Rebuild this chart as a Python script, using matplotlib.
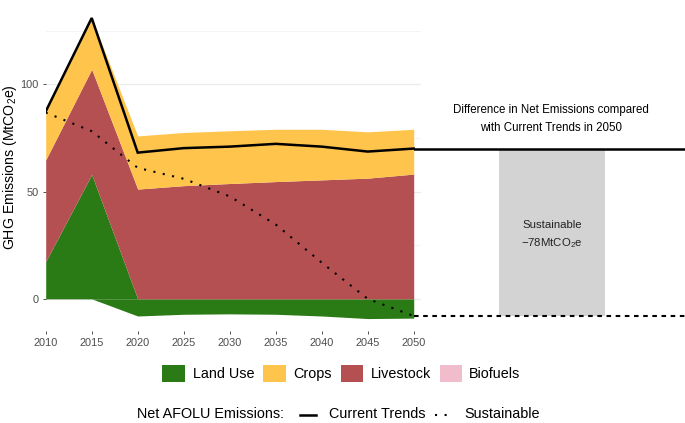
import matplotlib
matplotlib.use("Agg")
import matplotlib.pyplot as plt
import numpy as np
from matplotlib.patches import Rectangle
from matplotlib.lines import Line2D

plt.rcParams['font.family'] = ['Liberation Sans', 'DejaVu Sans']
plt.rcParams['mathtext.fontset'] = 'custom'
plt.rcParams['mathtext.rm'] = 'Liberation Sans'
plt.rcParams['mathtext.it'] = 'Liberation Sans:italic'
plt.rcParams['mathtext.bf'] = 'Liberation Sans:bold'

# ---------------- data ----------------
years = [2010, 2015, 2020, 2025, 2030, 2035, 2040, 2045, 2050]
land_use = [17.4, 58.0, -8.0, -7.2, -7.0, -7.2, -8.0, -9.2, -9.0]
livestock = [47.4, 49.1, 51.2, 52.8, 53.8, 54.7, 55.5, 56.3, 58.2]
crops = [22.6, 23.9, 24.8, 24.8, 24.6, 24.4, 23.6, 21.6, 20.9]
biofuels = [0, 0, 0, 0, 0, 0, 0, 0, 0]
current_trends = [87.4, 131.0, 68.2, 70.3, 71.0, 72.3, 71.0, 68.7, 70.1]
sustainable = [86.9, 78.2, 61.1, 56.0, 47.8, 34.7, 16.9, 0.0, -8.0]

y_ticks = [0, 50, 100]
x_ticks = years

sector_names = ["Land Use", "Crops", "Livestock", "Biofuels"]
sector_colors = {"Land Use": "#2A7B15", "Crops": "#FFC44B",
                 "Livestock": "#B44F52", "Biofuels": "#F1BCCB"}

# ---------------- figure ----------------
W, H = 685, 423
fig = plt.figure(figsize=(W / 100, H / 100), dpi=100)

def fx(px):
    return px / W

def fy(py):
    return 1 - py / H

left_px, right_px, top_px, bot_px = 45.7, 420.7, 3, 331
ax = fig.add_axes([fx(left_px), fy(bot_px), fx(right_px - left_px), (bot_px - top_px) / H])
ax.set_xlim(2010, 2050.76)
ax.set_ylim(-15, 138)

yrs = np.array(years, dtype=float)
lu = np.array(land_use)
ls = np.array(livestock)
cr = np.array(crops)
bf = np.array(biofuels)
pos_base = np.clip(lu, 0, None)
neg_part = np.clip(lu, None, 0)

ax.fill_between(yrs, 0, pos_base, color=sector_colors["Land Use"], lw=0, zorder=2)
ax.fill_between(yrs, neg_part, 0, color=sector_colors["Land Use"], lw=0, zorder=2)
ax.fill_between(yrs, pos_base, pos_base + ls, color=sector_colors["Livestock"], lw=0, zorder=2)
ax.fill_between(yrs, pos_base + ls, pos_base + ls + cr, color=sector_colors["Crops"], lw=0, zorder=2)
ax.fill_between(yrs, pos_base + ls + cr, pos_base + ls + cr + bf, color=sector_colors["Biofuels"], lw=0, zorder=2)

ax.plot(yrs, current_trends, color="black", lw=1.8, zorder=4, solid_joinstyle="miter")
ax.plot(yrs, sustainable, color="black", lw=1.5, linestyle=(0, (1, 3.6)), zorder=4)

# grid
for v in [0, 50, 100]:
    ax.axhline(v, color="#EBEBEB", lw=0.9, zorder=0)
for v in [25, 75, 125]:
    ax.axhline(v, color="#F2F2F2", lw=0.6, zorder=0)

for s in ax.spines.values():
    s.set_visible(False)
ax.set_yticks(y_ticks)
ax.set_xticks(x_ticks)
ax.set_xticklabels([str(y) for y in x_ticks])
ax.tick_params(axis="both", length=2.5, width=0.6, color="#333333",
               labelcolor="#4D4D4D", labelsize=7.9, pad=2.5)
ax.set_ylabel("GHG Emissions (MtCO$_2$e)", fontsize=10.2, color="black")
ax.yaxis.set_label_coords(-0.072, 0.5)

# ---------------- right panel ----------------
r_left = 414
ax2 = fig.add_axes([fx(r_left), fy(bot_px), fx(W - r_left), (bot_px - top_px) / H])
ax2.set_xlim(0, 1)
ax2.set_ylim(-15, 138)
ax2.axis("off")
ax2.patch.set_alpha(0)
diff = sustainable[-1] - current_trends[-1]
ax2.bar(0.51, current_trends[-1] - sustainable[-1], bottom=sustainable[-1],
        width=0.39, color="#D3D3D3", zorder=1)
ax2.axhline(current_trends[-1], color="black", lw=1.8, zorder=3)
ax2.axhline(sustainable[-1], color="black", lw=1.5, linestyle=(0, (2.2, 2.2)), zorder=3)
mid = (current_trends[-1] + sustainable[-1]) / 2
ax2.text(0.51, mid - 1.4, "Sustainable\n\u2212" + "%dMtCO$_2$e" % round(abs(diff)),
         ha="center", va="center", fontsize=8.2, linespacing=1.65, color="#222222")
ax2.text(0.505, 83.7, "Difference in Net Emissions compared\nwith Current Trends in 2050",
         ha="center", va="center", fontsize=8.3, linespacing=1.65, color="black")

# ---------------- legends ----------------
key_x = [162.3, 263.3, 340.7, 439.7]
txt_x = [193.3, 293.3, 371.0, 469.3]
for name, kx, tx in zip(sector_names, key_x, txt_x):
    fig.add_artist(Rectangle((fx(kx), fy(381.5)), fx(22.5), 16.5 / H,
                             transform=fig.transFigure, facecolor=sector_colors[name],
                             edgecolor="none"))
    fig.text(fx(tx), fy(373.5), name, ha="left", va="center", fontsize=10.4)

fig.text(fx(137.3), fy(414), "Net AFOLU Emissions:", ha="left", va="center", fontsize=10.4)
fig.add_artist(Line2D([fx(300), fx(316)], [fy(414.5), fy(414.5)], color="black", lw=1.8,
                      transform=fig.transFigure))
fig.text(fx(329.3), fy(414), "Current Trends", ha="left", va="center", fontsize=10.4)
fig.add_artist(Line2D([fx(435), fx(448)], [fy(414.5), fy(414.5)], color="black", lw=1.5,
                      linestyle=(0, (1, 3.6)), transform=fig.transFigure))
fig.text(fx(464.3), fy(414), "Sustainable", ha="left", va="center", fontsize=10.4)

fig.savefig("out.png", dpi=100)
